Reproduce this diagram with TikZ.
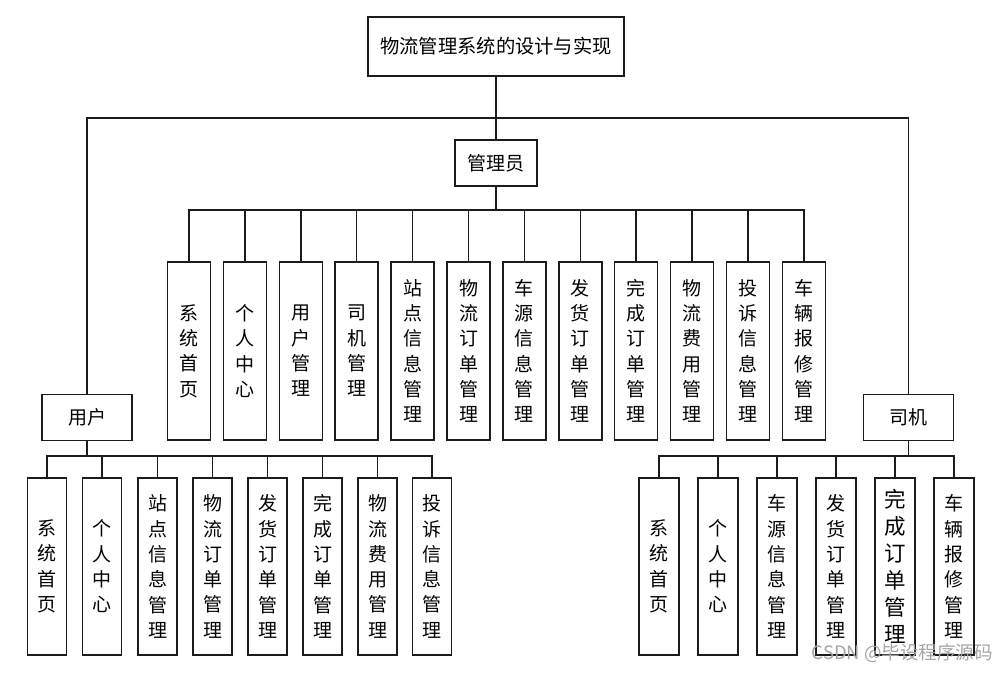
\documentclass[tikz,border=0pt]{standalone}
\usepackage{fontspec}
\setmainfont{Noto Sans CJK SC}
\usepackage{xcolor}
\usepackage{tikz}
\usetikzlibrary{positioning}
\definecolor{ink}{RGB}{28,28,28}
\definecolor{mark}{RGB}{165,165,165}

\begin{document}
\begin{tikzpicture}[
  x=1pt,y=-1pt,
  font=\fontsize{19}{25.3}\selectfont,
  sysbox/.style={rectangle,draw=ink,line width=1.5pt,fill=white,minimum width=256pt,minimum height=59pt,inner sep=0pt},
  rolebox/.style={rectangle,draw=ink,line width=1.5pt,fill=white,minimum width=90pt,minimum height=46pt,inner sep=0pt},
  funcbox/.style={rectangle,draw=ink,line width=1.5pt,fill=white,minimum width=43pt,minimum height=178pt,inner sep=0pt,align=center},
  subbox/.style={funcbox,minimum width=40pt,minimum height=177pt},
  link/.style={draw=ink,line width=1.5pt}
]
\useasboundingbox (0,0) rectangle (1008,673);

\node[sysbox] (sys) at (496,46.5) {\fontsize{19.3}{24}\selectfont 物流管理系统的设计与实现};
\node[rolebox,minimum width=82pt] (adm) at (496,163) {管理员};
\node[rolebox] (usr) at (87,417.5) {用户};
\node[rolebox] (drv) at (908.5,417.5) {司机};

\coordinate (tbus) at (496,118);
\coordinate (abus) at (496,210);
\coordinate (ubus) at (87,456);
\coordinate (dbus) at (908.5,456);

\node[funcbox] (a1) at (189,351) {系\\统\\首\\页};
\node[funcbox] (a2) at (244.9,351) {个\\人\\中\\心};
\node[funcbox] (a3) at (300.8,351) {用\\户\\管\\理};
\node[funcbox] (a4) at (356.7,351) {司\\机\\管\\理};
\node[funcbox] (a5) at (412.6,351) {站\\点\\信\\息\\管\\理};
\node[funcbox] (a6) at (468.5,351) {物\\流\\订\\单\\管\\理};
\node[funcbox] (a7) at (524.4,351) {车\\源\\信\\息\\管\\理};
\node[funcbox] (a8) at (580.3,351) {发\\货\\订\\单\\管\\理};
\node[funcbox] (a9) at (636.2,351) {完\\成\\订\\单\\管\\理};
\node[funcbox] (a10) at (692.1,351) {物\\流\\费\\用\\管\\理};
\node[funcbox] (a11) at (748,351) {投\\诉\\信\\息\\管\\理};
\node[funcbox] (a12) at (803.9,351) {车\\辆\\报\\修\\管\\理};

\node[subbox,minimum width=39pt] (u1) at (47,566.5) {系\\统\\首\\页};
\node[subbox,minimum width=39pt] (u2) at (102,566.5) {个\\人\\中\\心};
\node[subbox,minimum width=39pt] (u3) at (157.5,566.5) {站\\点\\信\\息\\管\\理};
\node[subbox,minimum width=39pt] (u4) at (212.5,566.5) {物\\流\\订\\单\\管\\理};
\node[subbox,minimum width=39pt] (u5) at (267.5,566.5) {发\\货\\订\\单\\管\\理};
\node[subbox,minimum width=39pt] (u6) at (322.5,566.5) {完\\成\\订\\单\\管\\理};
\node[subbox,minimum width=39pt] (u7) at (377.5,566.5) {物\\流\\费\\用\\管\\理};
\node[subbox,minimum width=39pt] (u8) at (432,566.5) {投\\诉\\信\\息\\管\\理};

\node[subbox] (d1) at (659,566.5) {系\\统\\首\\页};
\node[subbox] (d2) at (718,566.5) {个\\人\\中\\心};
\node[subbox] (d3) at (777,566.5) {车\\源\\信\\息\\管\\理};
\node[subbox] (d4) at (836,566.5) {发\\货\\订\\单\\管\\理};
\node[subbox,font=\fontsize{21.5}{27}\selectfont] (d5) at (895,566.5) {完\\成\\订\\单\\管\\理};
\node[subbox] (d6) at (954,566.5) {车\\辆\\报\\修\\管\\理};

\draw[link] (sys) -- (adm);
\draw[link] (tbus) -| (usr);
\draw[link] (tbus) -| (drv);

\draw[link] (adm) -- (abus);
\draw[link] (abus) -| (a1);
\draw[link] (abus) -| (a2);
\draw[link] (abus) -| (a3);
\draw[link] (abus) -| (a4);
\draw[link] (abus) -| (a5);
\draw[link] (abus) -| (a6);
\draw[link] (abus) -| (a7);
\draw[link] (abus) -| (a8);
\draw[link] (abus) -| (a9);
\draw[link] (abus) -| (a10);
\draw[link] (abus) -| (a11);
\draw[link] (abus) -| (a12);

\draw[link] (usr) -- (ubus);
\draw[link] (ubus) -| (u1);
\draw[link] (ubus) -| (u2);
\draw[link] (ubus) -| (u3);
\draw[link] (ubus) -| (u4);
\draw[link] (ubus) -| (u5);
\draw[link] (ubus) -| (u6);
\draw[link] (ubus) -| (u7);
\draw[link] (ubus) -| (u8);

\draw[link] (drv) -- (dbus);
\draw[link] (dbus) -| (d1);
\draw[link] (dbus) -| (d2);
\draw[link] (dbus) -| (d3);
\draw[link] (dbus) -| (d4);
\draw[link] (dbus) -| (d5);
\draw[link] (dbus) -| (d6);

\node[anchor=east,text=mark,font=\fontsize{18.5}{20}\selectfont,inner sep=0pt] (wm) at (993,653) {CSDN @毕设程序源码};
\end{tikzpicture}
\end{document}
